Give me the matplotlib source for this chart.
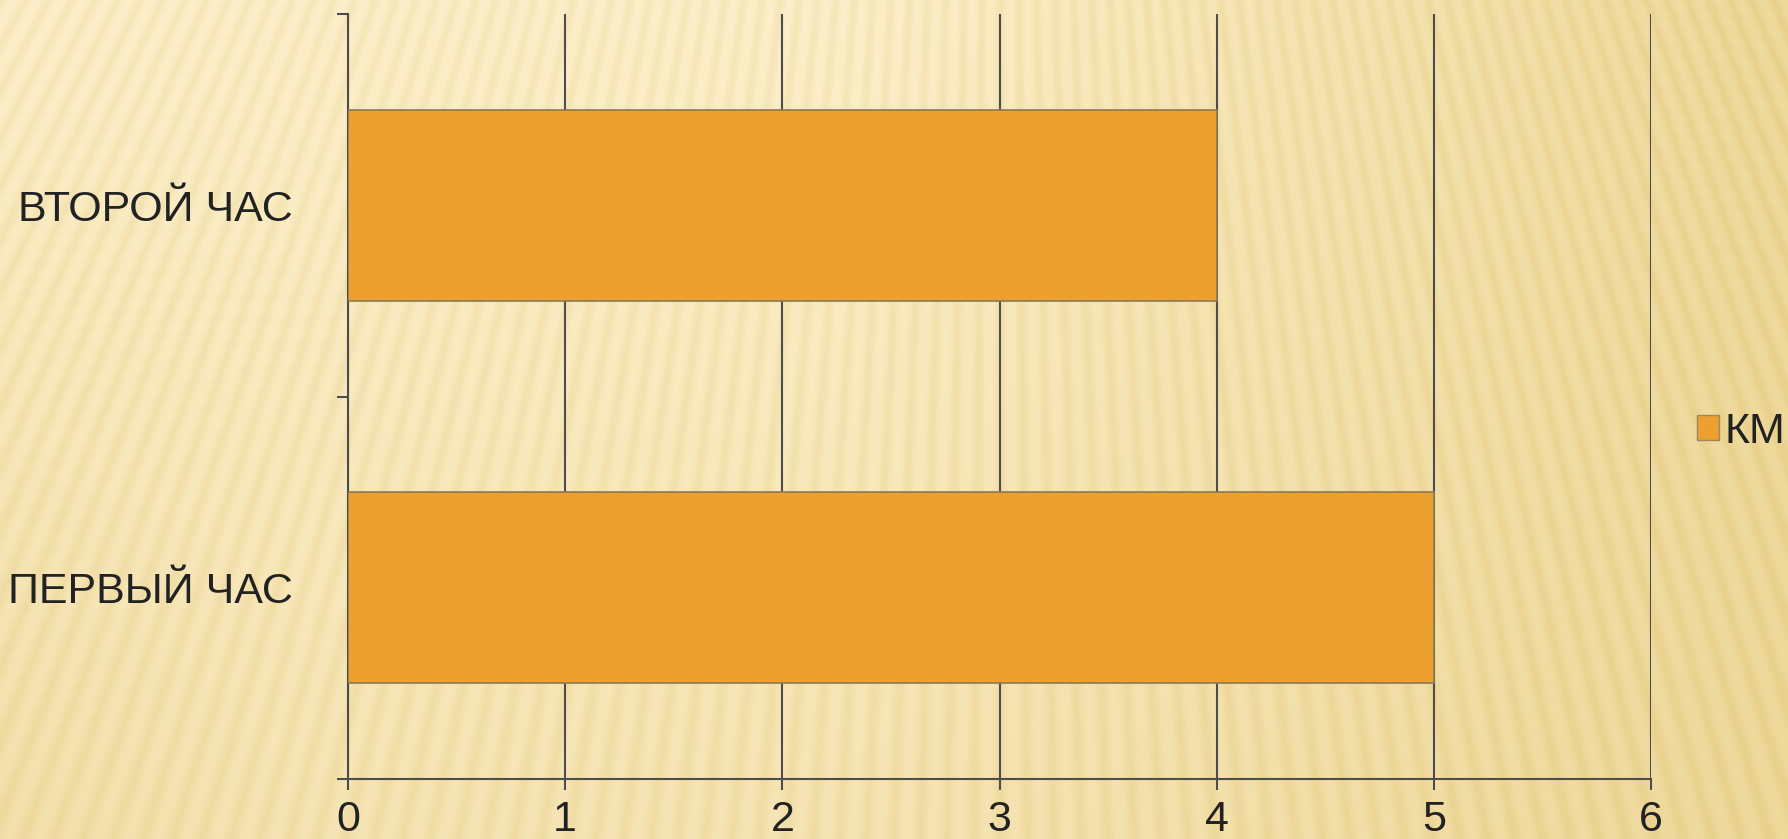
import numpy as np
import matplotlib.pyplot as plt
from matplotlib.patches import Patch

# Data
categories = ['ПЕРВЫЙ ЧАС', 'ВТОРОЙ ЧАС']
km = [5, 4]
series_name = 'КМ'

W, H = 1788, 839
fig = plt.figure(figsize=(W / 100, H / 100), dpi=100)

# Background: warm gradient with faint sunburst stripes
bg = fig.add_axes([0, 0, 1, 1], zorder=0)
yy, xx = np.mgrid[0:H, 0:W]
theta = np.arctan2(xx - 1000.0, yy + 1800.0)
stripes = (0.5 + 0.5 * np.cos(theta * 620)) ** 1.5
grad = (0.75 * np.clip((xx - 850) / 950, 0, 1)
        + 0.35 * (yy / H) * (1 - np.clip((xx - 850) / 950, 0, 1))
        + 0.15 * np.clip((300 - xx) / 300, 0, 1) * (yy / H))
grad = np.clip(grad, 0, 1)
light = np.array([252, 239, 201]) / 255
dark = np.array([234, 210, 140]) / 255
base = light[None, None, :] * (1 - grad[..., None]) + dark[None, None, :] * grad[..., None]
img = base - stripes[..., None] * np.array([0.03, 0.05, 0.09])[None, None, :] * 0.7
bg.imshow(np.clip(img, 0, 1), aspect='auto', extent=[0, 1, 0, 1])
bg.axis('off')

ax = fig.add_axes([348 / W, 1 - 779 / H, (1651 - 348) / W, (779 - 14) / H], zorder=1)
ax.patch.set_alpha(0)

y = np.arange(len(categories))
ax.barh(y, km, height=0.5, color='#EDA030', edgecolor='#8a7a55', linewidth=1.2,
        zorder=3)

ax.set_xlim(0, 6)
ax.set_ylim(-0.5, 1.5)
ax.set_xticks(range(0, 7))
ax.xaxis.grid(True, color='#4d4d4d', linewidth=1.5, zorder=1)
ax.set_axisbelow(True)

ax.set_yticks(y)
ax.set_yticklabels(categories)
ax.set_yticks([-0.5, 0.5, 1.5], minor=True)
ax.tick_params(axis='y', which='major', length=0, pad=40)
ax.tick_params(axis='y', which='minor', length=8, width=1.5, color='#4d4d4d')
ax.tick_params(axis='x', length=8, width=1.5, color='#4d4d4d', pad=7)
for lab in ax.get_xticklabels() + ax.get_yticklabels():
    lab.set_fontfamily('Liberation Sans')
    lab.set_fontsize(31)
    lab.set_color('#222222')

for side in ['top', 'right']:
    ax.spines[side].set_visible(False)
for side in ['left', 'bottom']:
    ax.spines[side].set_color('#4d4d4d')
    ax.spines[side].set_linewidth(1.5)

handle = Patch(facecolor='#EDA030', edgecolor='#9a8a60', label=series_name)
fig.legend(handles=[handle], loc='center left', bbox_to_anchor=(1697 / W, 1 - 432 / H),
           frameon=False, borderpad=0, borderaxespad=0,
           handlelength=0.5, handleheight=0.5, handletextpad=0.15,
           prop={'family': 'Liberation Sans', 'size': 31}, labelcolor='#222222')

fig.savefig('out.png', dpi=100)
